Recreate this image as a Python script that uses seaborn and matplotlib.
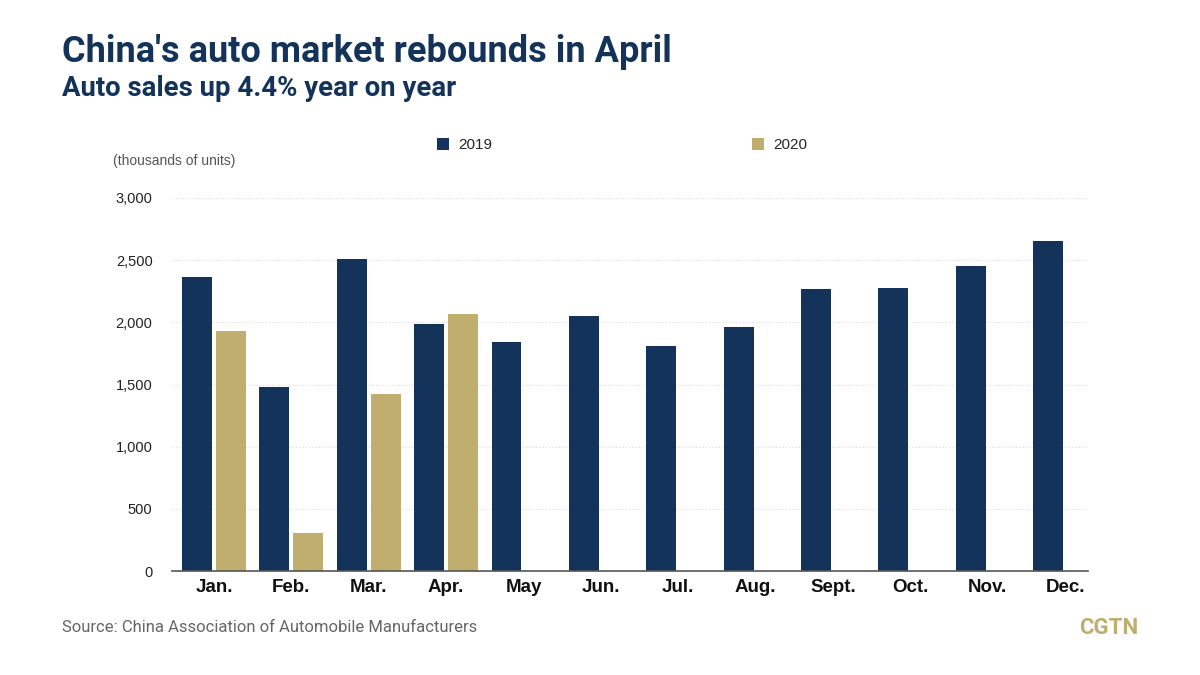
import matplotlib
matplotlib.use("Agg")
import matplotlib.pyplot as plt
import seaborn as sns
import pandas as pd
import numpy as np

months = ["Jan.", "Feb.", "Mar.", "Apr.", "May", "Jun.", "Jul.", "Aug.", "Sept.", "Oct.", "Nov.", "Dec."]
sales_2019 = [2365, 1480, 2510, 1987, 1842, 2051, 1810, 1963, 2269, 2277, 2454, 2655]
sales_2020 = [1931, 306, 1424, 2068, np.nan, np.nan, np.nan, np.nan, np.nan, np.nan, np.nan, np.nan]
years = ["2019", "2020"]
yticks = [0, 500, 1000, 1500, 2000, 2500, 3000]

NAVY = "#13335a"
GOLD = "#bfae6e"

df = pd.DataFrame({
    "month": months * 2,
    "sales": sales_2019 + sales_2020,
    "year": [years[0]] * 12 + [years[1]] * 12,
})

sns.set_style("white")
plt.rcParams["font.family"] = ["Liberation Sans", "DejaVu Sans"]

fig = plt.figure(figsize=(12, 6.75), dpi=100)
ax = fig.add_axes([0.1433, 0.154, 0.7634, 0.5527])

sns.barplot(data=df, x="month", y="sales", hue="year", order=months, hue_order=years,
            palette=[NAVY, GOLD], saturation=1, width=0.878, gap=0.12, ax=ax, legend=True,
            edgecolor="none", linewidth=0)

ax.set_xlim(-0.543, 11.297)
ax.set_ylim(0, 3000)
ax.set_yticks(yticks)
ax.set_yticklabels([f"{v:,}" for v in yticks], fontsize=10.5, color="#222222")
ax.tick_params(axis="y", length=0, pad=14)
ax.tick_params(axis="x", length=0, pad=6)
for lbl in ax.get_xticklabels():
    lbl.set_fontweight("bold")
    lbl.set_fontsize(13.5)
    lbl.set_color("#111111")
ax.set_xlabel("")
ax.set_ylabel("")
ax.yaxis.grid(True, linestyle=(0, (1, 2)), color="#d8d8d8", linewidth=0.8)
ax.set_axisbelow(True)
for s in ["top", "right", "left"]:
    ax.spines[s].set_visible(False)
ax.spines["bottom"].set_color("#555555")
ax.spines["bottom"].set_linewidth(1.2)

handles, labels = ax.get_legend_handles_labels()
ax.legend(handles, labels, ncol=2, frameon=False, loc="center",
          bbox_to_anchor=(622 / 1200, 1 - 145 / 675), bbox_transform=fig.transFigure,
          handlelength=0.8, handleheight=0.8, handletextpad=0.6, columnspacing=17,
          fontsize=11)

fig.text(62 / 1200, 1 - 52 / 675, "China's auto market rebounds in April", fontsize=26,
         fontweight="bold", color=NAVY, va="center", ha="left", family=["Roboto", "DejaVu Sans"])
fig.text(62 / 1200, 1 - 89 / 675, "Auto sales up 4.4% year on year", fontsize=19.8,
         fontweight="bold", color=NAVY, va="center", ha="left", family=["Roboto", "DejaVu Sans"])
fig.text(113 / 1200, 1 - 161 / 675, "(thousands of units)", fontsize=10, color="#555555",
         va="center", ha="left")
fig.text(62 / 1200, 1 - 628 / 675, "Source: China Association of Automobile Manufacturers",
         fontsize=12, color="#666666", va="center", ha="left", family=["Roboto", "DejaVu Sans"])
fig.text(1138 / 1200, 1 - 628 / 675, "CGTN", fontsize=16, fontweight="bold", color=GOLD,
         va="center", ha="right", family=["Roboto", "DejaVu Sans"])

fig.savefig("out.png", dpi=100, facecolor="white")
